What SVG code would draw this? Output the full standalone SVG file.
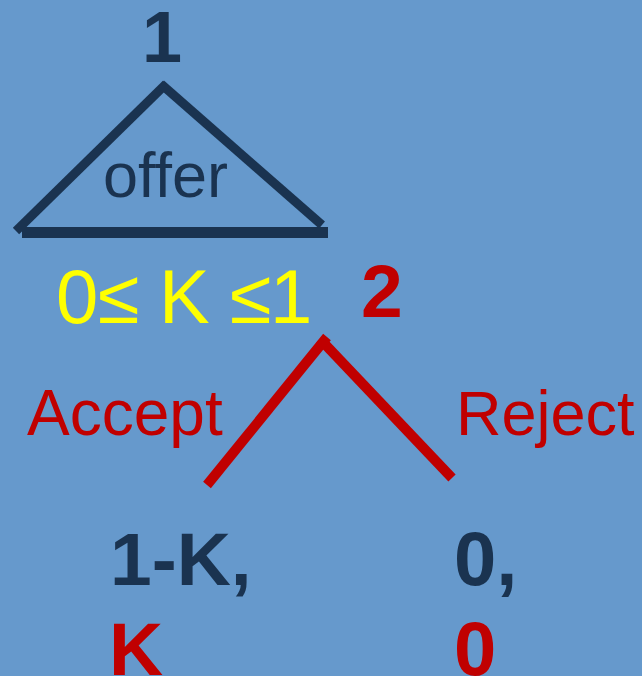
<svg xmlns="http://www.w3.org/2000/svg" width="642" height="676" viewBox="0 0 642 676">
  <style>
    text { font-family: "Liberation Sans", Arial, sans-serif; }
    .navy { fill: #1a3350; }
    .red { fill: #c00000; }
    .bold { font-weight: bold; }
    .navy-line { stroke: #1a3350; stroke-width: 9; fill: none; }
    .red-line { stroke: #c00000; stroke-width: 10; fill: none; }
  </style>
  <rect width="642" height="676" fill="#6699cc"/>

  <!-- player 1: offer triangle -->
  <g id="player1">
    <text class="navy bold" x="142" y="62" font-size="72">1</text>
    <line class="navy-line" x1="166" y1="84" x2="16" y2="231"/>
    <line class="navy-line" x1="161" y1="84" x2="322" y2="225"/>
    <rect x="22" y="227" width="306" height="11" fill="#1a3350"/>
    <text class="navy" x="103" y="197" font-size="63">offer</text>
  </g>

  <!-- offer range, glyphs placed one by one -->
  <text id="range" y="323" font-size="76" fill="#ffff00"><tspan x="56">0</tspan><tspan x="98">≤</tspan><tspan x="159">K</tspan><tspan x="230">≤</tspan><tspan x="270">1</tspan></text>

  <!-- player 2: accept / reject -->
  <g id="player2">
    <text class="red bold" x="361" y="317" font-size="75">2</text>
  </g>

  <g id="connectors">
    <line class="red-line" x1="327" y1="337" x2="207" y2="485"/>
    <line class="red-line" x1="320" y1="339" x2="452" y2="478"/>
  </g>

  <g id="accept">
    <text class="red" x="27" y="435" font-size="64">Accept</text>
    <text class="navy bold" x="110" y="585" font-size="75">1-K,</text>
    <text class="red bold" x="109" y="675" font-size="75">K</text>
  </g>

  <g id="reject">
    <text class="red" x="456" y="435" font-size="63">Reject</text>
    <text class="navy bold" x="454" y="585" font-size="76">0,</text>
    <text class="red bold" x="454" y="675" font-size="76">0</text>
  </g>
</svg>
